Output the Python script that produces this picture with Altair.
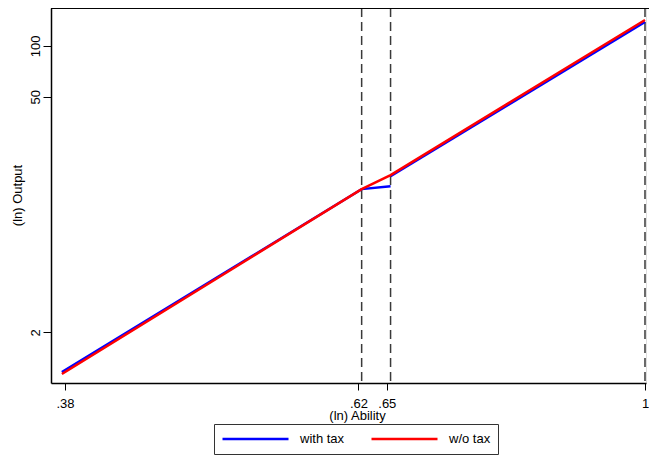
import altair as alt
import pandas as pd

# --- values (log-log lines) ---
# the "with tax" line breaks at the upper cut-off, so it has two segments
ability_tax = [0.378, 0.6233, 0.6541, 0.6541, 1.0]
output_tax = [1.16, 14.14, 14.73, 16.9, 138.8]
segment_tax = [1, 1, 1, 2, 2]

ability_notax = [0.378, 0.6233, 0.6541, 1.0]
output_notax = [1.13, 14.14, 17.13, 142.7]

cutoffs = [0.6233, 0.6541, 1.0]

x_ticks = [0.38, 0.62, 0.65, 1.0]
y_ticks = [2, 50, 100]

series_names = ["with tax", "w/o tax"]
series_colors = ["blue", "red"]

tax = pd.DataFrame({"ability": ability_tax, "output": output_tax, "seg": segment_tax,
                    "series": series_names[0], "i": range(len(ability_tax))})
notax = pd.DataFrame({"ability": ability_notax, "output": output_notax, "seg": 1,
                      "series": series_names[1], "i": range(len(ability_notax))})
lines_df = pd.DataFrame({"ability": cutoffs})

FONT = "Liberation Sans"
W, H = 595, 375

x_scale = alt.Scale(type="log", domain=[0.3712, 1.00167], nice=False)
y_scale = alt.Scale(type="log", domain=[1, 168], nice=False)

x_axis = alt.Axis(
    title="(ln) Ability", values=x_ticks,
    labelExpr="datum.value == 1 ? '1' : replace(format(datum.value, '.2f'), '0.', '.')",
    grid=False, tickSize=7, tickColor="black", domainColor="black", domainWidth=1.5,
    labelFont=FONT, labelFontSize=13, labelColor="black", labelBaseline="alphabetic",
    labelPadding=17, labelFlush=False, labelOverlap=False,
    titleFont=FONT, titleFontSize=13, titleFontWeight="normal", titleColor="black",
    titleBaseline="alphabetic", titleY=36, titleX=306, titleAlign="center",
)
y_axis = alt.Axis(
    title="(ln) Output", values=y_ticks, format="d",
    grid=False, tickSize=8, tickColor="black", domainColor="black", domainWidth=1.5,
    labelFont=FONT, labelFontSize=13, labelColor="black", labelAngle=270,
    labelAlign="center", labelBaseline="alphabetic", labelPadding=4,
    titleFont=FONT, titleFontSize=13, titleFontWeight="normal", titleColor="black",
    titleBaseline="alphabetic", titleX=-30, titleY=187, titleAngle=270, titleAlign="center",
)

# long flat legend key, entry height clipped
color = alt.Color(
    "series:N",
    scale=alt.Scale(domain=series_names, range=series_colors),
    legend=alt.Legend(
        title=None, orient="none", legendX=163, legendY=416, direction="horizontal",
        symbolType="stroke", symbolSize=4356, symbolStrokeWidth=2.5, clipHeight=16,
        labelFont=FONT, labelFontSize=13, labelColor="black", labelOffset=10,
        columnPadding=25, padding=7, strokeColor="#333333",
    ),
)

# --- dashed cut-off lines ---
cuts = alt.Chart(lines_df).mark_rule(color="#3a3a3a", strokeWidth=1.5, strokeDash=[9, 5]).encode(
    x=alt.X("ability:Q", scale=x_scale, axis=x_axis)
)

# --- top border of the plot region ---
top = alt.Chart(lines_df).mark_rule(color="black", strokeWidth=1.5).encode(
    x=alt.value(0), x2=alt.value(W + 3), y=alt.value(0)
)

blue = alt.Chart(tax).mark_line(strokeWidth=2.5).encode(
    x=alt.X("ability:Q", scale=x_scale, axis=x_axis),
    y=alt.Y("output:Q", scale=y_scale, axis=y_axis),
    order="i:Q",
    detail="seg:N",
    color=color,
)
red = alt.Chart(notax).mark_line(strokeWidth=2.5).encode(
    x=alt.X("ability:Q", scale=x_scale, axis=x_axis),
    y=alt.Y("output:Q", scale=y_scale, axis=y_axis),
    order="i:Q",
    color=color,
)

chart = (
    alt.layer(cuts, top, blue, red)
    .properties(width=W, height=H,
                autosize=alt.AutoSizeParams(type="none"),
                padding={"left": 43, "top": 0, "right": 3, "bottom": 73})
    .configure_view(stroke="transparent")
    .configure(background="white")
)

chart.save("out.html", embed_options={"renderer": "svg", "actions": False})
